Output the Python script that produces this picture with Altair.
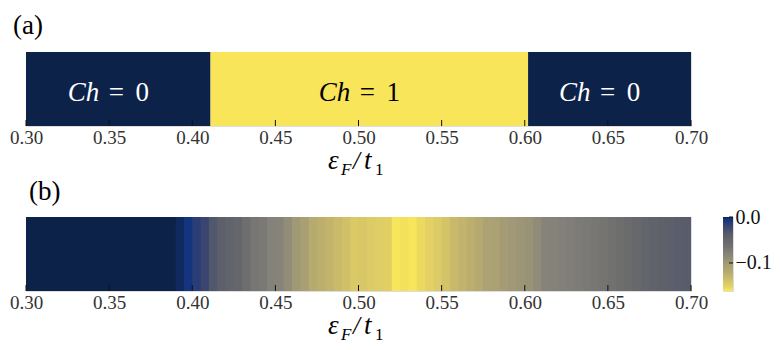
import altair as alt
import pandas as pd

W, H = 665, 74
CBW = 10
SERIF = "Liberation Serif"
NAVY = "#0c2249"
YELLOW = "#f8e55a"

# ---------------- data ----------------
# panel (a): Chern number regions along eps_F / t_1
ch_start = [0.300, 0.411, 0.602]
ch_end = [0.411, 0.602, 0.700]
ch_number = ["0", "1", "0"]
ch_text_color = ["white", "black", "white"]

# panel (b): value per eps_F bin (bin width 0.005, starting at 0.300)
bin_width = 0.005
strip_values = [
    0.0, 0.0, 0.0, 0.0, 0.0, 0.0, 0.0, 0.0, 0.0, 0.0,
    0.0, 0.0, 0.0, 0.0, 0.0, 0.0, 0.0, 0.0,
    -0.002, -0.005, -0.013, -0.020, -0.033, -0.040, -0.045, -0.048, -0.060, -0.068,
    -0.071, -0.080, -0.081, -0.090, -0.101, -0.106, -0.120, -0.124, -0.128, -0.133,
    -0.137, -0.145, -0.143, -0.146, -0.148, -0.150, -0.160, -0.158, -0.160, -0.155,
    -0.151, -0.146, -0.140, -0.132, -0.128, -0.124, -0.119, -0.110, -0.109, -0.103,
    -0.100, -0.097, -0.094, -0.089, -0.081, -0.080, -0.078, -0.076, -0.073, -0.071,
    -0.069, -0.066, -0.063, -0.060, -0.056, -0.052, -0.047, -0.044, -0.042, -0.040,
    -0.038, -0.037,
]
tick_values = [0.30, 0.35, 0.40, 0.45, 0.50, 0.55, 0.60, 0.65, 0.70]
colorbar_ticks = [0.0, -0.1]
colorbar_range = [-0.161, 0.0]

# colour map (value -> colour)
cmap_domain = [-0.161, -0.150, -0.140, -0.128, -0.120, -0.106, -0.090, -0.080,
               -0.060, -0.040, -0.020, -0.005, 0.0]
cmap_range = ["#f9e75a", "#e2cf64", "#d4c468", "#c2b46c", "#b6aa70", "#a89f74", "#928d78",
              "#85827a", "#6e6e6e", "#5d606a", "#3a4670", "#15347e", NAVY]

# ---------------- tables ----------------
df_a = pd.DataFrame({"start": ch_start, "end": ch_end, "num": ch_number, "tc": ch_text_color})
df_a["mid"] = (df_a["start"] + df_a["end"]) / 2

starts = [round(0.30 + bin_width * i, 4) for i in range(len(strip_values))]
df_b = pd.DataFrame({"start": starts, "v": strip_values})
df_b["order"] = range(len(df_b))
df_b["end"] = 0.70  # each bin drawn to the right edge; later bins cover earlier ones (no seams)

# colour bar levels (fine grid over the colour range)
n_cb = 161
cb_lo = [colorbar_range[0] + (colorbar_range[1] - colorbar_range[0]) * i / n_cb for i in range(n_cb)]
df_cb = pd.DataFrame({"lo": cb_lo})
df_cb["hi"] = colorbar_range[1]
df_cb["order"] = range(n_cb)
df_cb["v"] = df_cb["lo"]

df_ticks = pd.DataFrame({"t": tick_values})
df_cbticks = pd.DataFrame({"t": colorbar_ticks})

xscale = alt.Scale(domain=[0.30, 0.70], nice=False, zero=False)
xaxis = alt.Axis(values=tick_values, format=".2f", labelFont=SERIF, labelFontSize=19,
                 labelColor="#333", ticks=False, domain=False, grid=False, title=None,
                 labelPadding=2, labelFlush=False)
cscale = alt.Scale(domain=cmap_domain, range=cmap_range, interpolate="rgb", clamp=True)


def inner_ticks():
    return alt.Chart(df_ticks).mark_rule(color="#111", strokeWidth=1).encode(
        x=alt.X("t:Q", scale=xscale, axis=xaxis),
        y=alt.value(H), y2=alt.value(H - 6))


def eps_title():
    parts = [
        ("ε", 302, H + 43, 27, "italic"),
        ("F", 315, H + 49, 17, "italic"),
        ("/", 327, H + 43, 25, "italic"),
        ("t", 338, H + 43, 27, "italic"),
        ("1", 349, H + 49, 17, "normal"),
    ]
    layers = []
    for s, px, py, fs, st in parts:
        layers.append(
            alt.Chart(pd.DataFrame({"s": [s]})).mark_text(
                font=SERIF, fontSize=fs, fontStyle=st, align="left",
                baseline="alphabetic", color="black"
            ).encode(text="s:N", x=alt.value(px), y=alt.value(py))
        )
    return layers


# ---------------- panel (a) ----------------
base_a = alt.Chart(df_a)
rects_a = base_a.mark_rect().encode(
    x=alt.X("start:Q", scale=xscale, axis=xaxis),
    x2="end:Q",
    y=alt.value(0), y2=alt.value(H),
    color=alt.Color("num:N", scale=alt.Scale(domain=["0", "1"], range=[NAVY, YELLOW]), legend=None),
)
txt_ch = base_a.mark_text(font=SERIF, fontSize=27, fontStyle="italic", align="right",
                          baseline="middle", dx=-19, dy=4).encode(
    x=alt.X("mid:Q", scale=xscale), y=alt.value(H / 2), text=alt.value("Ch"),
    color=alt.Color("tc:N", scale=None))
txt_eq = base_a.mark_text(font=SERIF, fontSize=27, align="center",
                          baseline="middle", dx=-2, dy=4).encode(
    x=alt.X("mid:Q", scale=xscale), y=alt.value(H / 2), text=alt.value("="),
    color=alt.Color("tc:N", scale=None))
txt_num = base_a.mark_text(font=SERIF, fontSize=27, align="center",
                           baseline="middle", dx=24, dy=4).encode(
    x=alt.X("mid:Q", scale=xscale), y=alt.value(H / 2), text="num:N",
    color=alt.Color("tc:N", scale=None))

panel_a = alt.layer(rects_a, inner_ticks(), txt_ch, txt_eq, txt_num, *eps_title()).properties(
    width=W, height=H,
    title=alt.TitleParams("(a)", anchor="start", frame="group", font=SERIF, fontSize=27,
                          fontWeight="normal", color="black", dx=-13, offset=12),
)

# ---------------- panel (b) ----------------
rects_b = alt.Chart(df_b).mark_rect().encode(
    x=alt.X("start:Q", scale=xscale, axis=xaxis),
    x2="end:Q",
    y=alt.value(0), y2=alt.value(H),
    order=alt.Order("order:Q"),
    color=alt.Color("v:Q", scale=cscale, legend=None),
)
panel_b = alt.layer(rects_b, inner_ticks(), *eps_title()).properties(width=W, height=H)

# ---------------- colour bar ----------------
cb_y = alt.Scale(domain=colorbar_range, nice=False, zero=False)
cb_rects = alt.Chart(df_cb).mark_rect().encode(
    x=alt.value(0), x2=alt.value(CBW),
    y=alt.Y("lo:Q", scale=cb_y,
            axis=alt.Axis(orient="right", values=colorbar_ticks, format=".1f", labelFont=SERIF,
                          labelFontSize=20, labelColor="#111", ticks=False, domain=False,
                          grid=False, title=None, labelPadding=2, labelFlush=False)),
    y2="hi:Q",
    order=alt.Order("order:Q"),
    color=alt.Color("v:Q", scale=cscale, legend=None),
)
cb_ticks = alt.Chart(df_cbticks).mark_rule(color="#111", strokeWidth=1).encode(
    y=alt.Y("t:Q", scale=cb_y), x=alt.value(CBW - 4), x2=alt.value(CBW),
)
colorbar = alt.layer(cb_rects, cb_ticks).properties(width=CBW, height=H)

row_b = alt.hconcat(panel_b, colorbar, spacing=13).properties(
    title=alt.TitleParams("(b)", anchor="start", frame="group", font=SERIF, fontSize=27,
                          fontWeight="normal", color="black", dx=3, offset=1),
)

chart = alt.vconcat(panel_a, row_b, spacing=-2).resolve_scale(
    color="independent", x="independent", y="independent"
).properties(
    padding={"left": 0, "top": 3, "right": 0, "bottom": 0}
).configure_view(stroke="#222", strokeWidth=1.2).configure(background="white")

chart.save("out.html", embed_options={"renderer": "svg", "actions": False})
